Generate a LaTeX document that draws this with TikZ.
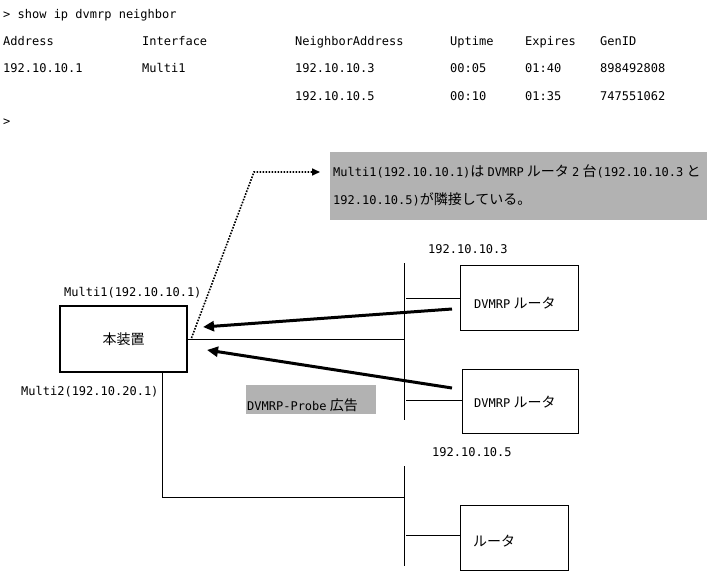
\documentclass[tikz,border=0pt]{standalone}
\usepackage{fontspec}
\setmainfont{DejaVu Sans Mono}
\newfontfamily\jpfont{Noto Sans CJK JP}
\newcommand\J[1]{{\jpfont\fontsize{14}{16}\selectfont #1}}
\newcommand\gp{\hspace{3.2pt}}
\usetikzlibrary{arrows.meta}
\begin{document}
\begin{tikzpicture}[x=1pt,y=-1pt,
  every node/.style={inner sep=0pt,font=\fontsize{12}{14}\selectfont},
  txt/.style={anchor=base west},
  hostbox/.style={draw,line width=2.2pt,minimum width=127pt,minimum height=66pt},
  rtbox/.style={draw,line width=0.8pt},
  wire/.style={line width=0.8pt},
  bigarrow/.style={line width=3pt,-{Triangle[length=11pt,width=10pt]}},
  noteline/.style={line width=1.6pt,dash pattern=on 1.6pt off 1.4pt,-{Triangle[length=8pt,width=7pt]}},
  shade/.style={fill=gray!60,draw=none}]
\useasboundingbox (0,0) rectangle (709,584);
% console output
\node[txt] (c0) at (3,18.3) {> show ip dvmrp neighbor};
\node[txt] (h1) at (3,45) {Address};
\node[txt] (h2) at (142,45) {Interface};
\node[txt] (h3) at (295,45) {NeighborAddress};
\node[txt] (h4) at (450,45) {Uptime};
\node[txt] (h5) at (525,45) {Expires};
\node[txt] (h6) at (600,45) {GenID};
\node[txt] (a1) at (3,72.5) {192.10.10.1};
\node[txt] (a2) at (142,72.5) {Multi1};
\node[txt] (a3) at (295,72.5) {192.10.10.3};
\node[txt] (a4) at (450,72.5) {00:05};
\node[txt] (a5) at (525,72.5) {01:40};
\node[txt] (a6) at (600,72.5) {898492808};
\node[txt] (b3) at (295,100) {192.10.10.5};
\node[txt] (b4) at (450,100) {00:10};
\node[txt] (b5) at (525,100) {01:35};
\node[txt] (b6) at (600,100) {747551062};
\node[txt] (c1) at (3,125) {>};
% callout
\node[shade,minimum width=377pt,minimum height=68pt,anchor=north west] (note) at (330,152) {};
\node[txt] (n1) at (333,176) {Multi1(192.10.10.1)\J{は}\gp DVMRP\gp\J{ルータ}\gp 2\gp\J{台}(192.10.10.3\gp\J{と}};
\node[txt] (n2) at (333,204) {192.10.10.5)\J{が隣接している。}};
% host
\node[hostbox] (host) at (123.5,339) {\J{本装置}};
\node[txt] (m1) at (64,296) {Multi1(192.10.10.1)};
\node[txt] (m2) at (21,395) {Multi2(192.10.20.1)};
% routers
\node[rtbox,minimum width=118pt,minimum height=65pt] (r1) at (519,297.5) {};
\node[rtbox,minimum width=116pt,minimum height=64pt] (r2) at (520,401) {};
\node[rtbox,minimum width=108pt,minimum height=65pt] (r3) at (514,537.5) {};
\node[txt] (r1t) at (474,308) {DVMRP\gp\J{ルータ}};
\node[txt] (r2t) at (474,407) {DVMRP\gp\J{ルータ}};
\node[txt] (r3t) at (473,546) {\J{ルータ}};
\node[txt] (ip3) at (428,253) {192.10.10.3};
\node[txt] (ip5) at (432,456) {192.10.10.5};
% probe label
\node[shade,minimum width=130pt,minimum height=29pt,anchor=north west] (probe) at (246,385) {};
\node[txt] (probet) at (247,410) {DVMRP-Probe\gp\J{広告}};
% buses
\coordinate (bus1t) at (404,263);
\coordinate (bus1b) at (404,420);
\coordinate (bus2t) at (404,466);
\coordinate (bus2b) at (404,566);
\draw[wire] (bus1t) -- (bus1b);
\draw[wire] (bus2t) -- (bus2b);
\coordinate (s1) at (406,298);
\coordinate (s2) at (406,400);
\coordinate (s3) at (406,535);
\draw[wire] (s1) -- (s1 -| r1.west);
\draw[wire] (s2) -- (s2 -| r2.west);
\draw[wire] (s3) -- (s3 -| r3.west);
\draw[wire] (host.east) -- (host.east -| bus1t);
\coordinate (d0) at (162,0);
\coordinate (d1) at (162,497);
\draw[wire] (host.south -| d0) -- (d1) -- (d1 -| bus2t);
% arrows
\coordinate (p1s) at (452,309);
\coordinate (p1e) at (203,327);
\coordinate (p2s) at (452,388);
\coordinate (p2e) at (207,350);
\draw[bigarrow] (p1s) -- (p1e);
\draw[bigarrow] (p2s) -- (p2e);
\coordinate (q0) at (191.5,338);
\coordinate (q1) at (254,172);
\coordinate (q2) at (320,172);
\draw[noteline] (q0) -- (q1) -- (q2);
\end{tikzpicture}
\end{document}
